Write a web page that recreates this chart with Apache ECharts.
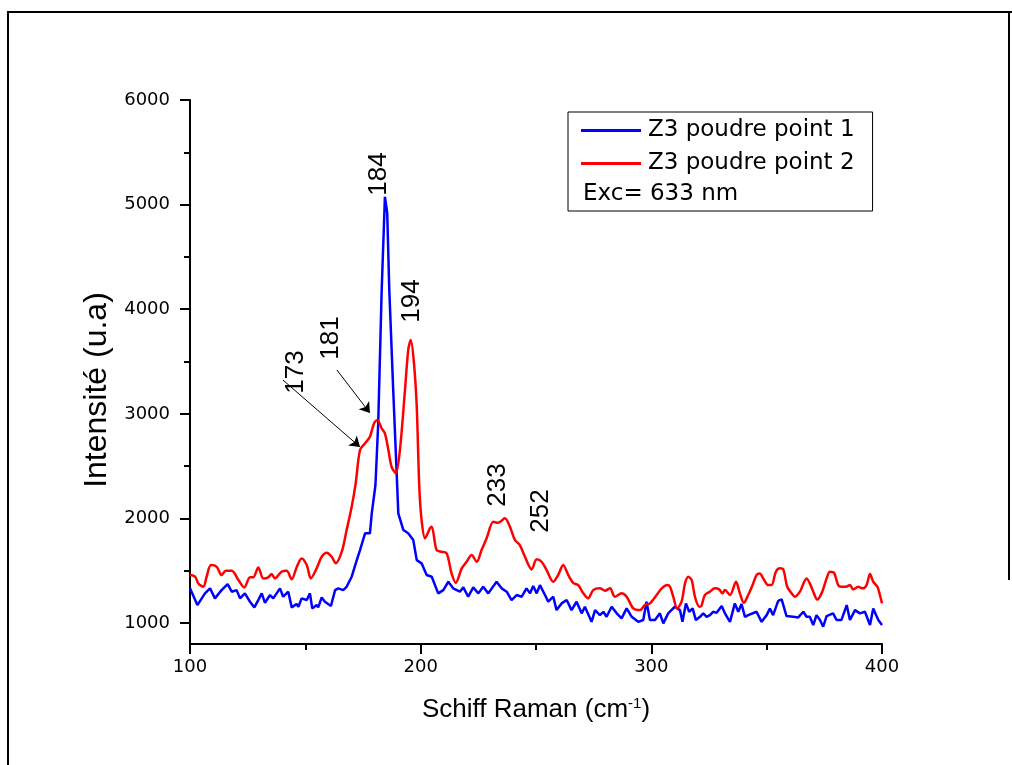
<!DOCTYPE html>
<html>
<head>
<meta charset="utf-8">
<script src="https://cdn.jsdelivr.net/npm/echarts@6/dist/echarts.min.js"></script>
<style>
  html, body { margin: 0; padding: 0; background: #fff; }
  #chart { width: 1012px; height: 765px; }
</style>
</head>
<body>
<div id="chart"></div>
<script>
// Raman shift (cm-1) / intensity pairs
const point1X = [100,103.2,106.5,108.7,110.8,113.7,116.3,118.1,120.2,121.7,123.8,126,127.9,129.6,131.1,132.5,134.7,136.1,139,140.4,142.6,144.1,146.2,147,148.4,150.6,152,153,154.9,155.6,157.1,158.5,161.1,162.9,164.3,166.4,167.9,170.1,172.3,173.7,175.9,178,178.8,180.4,181.6,183.1,184.5,185.5,186.4,188.1,189.9,190.3,192.5,194.6,196.8,198.3,200.4,202.6,204.8,207.6,209.8,212,214.1,217,218.5,220.6,222.8,225,227.1,229.3,232.9,235.1,237.3,239.4,241.6,243.8,245.9,247.4,248.8,250.3,251.7,253.9,255.3,257.5,258.9,261.1,263.3,265.4,267.6,269.8,271.2,274.1,275.6,277.7,279.2,280.6,282.8,285,287.1,289.3,291.5,294.3,296.5,297.9,299.4,301.6,303.7,305.2,307.3,310.2,312.4,313.5,315,316.4,317.9,319.3,321.1,322.5,324,325.4,326.8,328.3,330.5,331.9,334.1,336.2,337.7,339.1,340.6,342,345.6,347.8,350,351.4,352.8,355,356.5,358.6,361.5,363.7,365.9,367.3,368.7,370.2,371.6,373.1,374.5,376,378.8,380.3,382.4,384.7,386.1,388.3,390.4,392.6,394.8,396.2,398.4,400];
const point1Y = [1332,1172,1284,1332,1236,1315,1373,1300,1315,1236,1284,1204,1150,1220,1284,1194,1268,1236,1332,1252,1300,1150,1182,1156,1236,1220,1284,1140,1172,1150,1245,1204,1163,1315,1332,1315,1347,1443,1602,1698,1858,1858,2049,2320,2910,4183,5075,4920,4183,3228,2271,2049,1889,1858,1793,1602,1571,1459,1443,1284,1315,1395,1332,1300,1341,1252,1341,1284,1347,1284,1395,1332,1300,1220,1268,1252,1332,1284,1354,1284,1363,1268,1204,1252,1124,1188,1220,1124,1204,1093,1156,1012,1124,1076,1108,1060,1156,1093,1045,1140,1060,1012,1029,1204,1029,1029,1093,997,1093,1156,1124,1012,1188,1108,1140,1029,1060,1093,1060,1076,1108,1098,1163,1093,1012,1188,1108,1182,1060,1076,1108,1012,1076,1140,1076,1213,1226,1067,1060,1054,1108,1060,1060,981,1076,1029,965,1067,1093,1029,1029,1172,1029,1124,1093,1108,981,1140,1029,981];

const point2X = [100,102.2,103.6,105.8,107.2,109.1,111.6,113.7,115.5,118.1,121,123.5,126,127.4,129.6,131.8,133.9,135.4,136.8,139.7,141.9,144.1,146.2,148.4,150.6,152.4,154.9,157.1,159.3,161.4,163.2,165.8,167.9,170.1,171.8,173.7,175.9,178,179.8,181.2,183.1,184.5,186,187.4,189.2,191,193.2,194.6,195.7,197.1,198.3,199.4,200.4,201.9,204,204.8,206.9,209.1,211.3,213.4,215.2,217.8,219.9,222.1,224.3,226.4,228.6,231.5,233.6,236.5,238.7,240.9,243,245.2,248.1,250.3,252.4,254.6,257.5,259.6,261.8,264,266.1,268.3,270.5,272.6,274.8,277.7,279.9,282.1,284.2,287.1,289.3,292.2,295.1,297.2,299.4,302.3,304.5,306.9,308.1,309.5,311.2,313.1,314.6,316,317.5,318.9,320.8,321.7,323.2,325.4,327.5,329.4,330.8,331.9,334.1,336.7,338.4,340.1,342,343.9,345.6,347,348.5,350.7,352.1,354,355.7,357.2,358.9,360.8,362.2,364.4,367.3,368.7,370.2,371.9,373.8,376,377.4,379.2,381,382.4,384.3,386.1,387.5,389.7,391.6,393.3,394.8,396.2,398,399.1,400];
const point2Y = [1459,1443,1379,1347,1443,1555,1538,1459,1500,1500,1411,1341,1437,1437,1532,1427,1437,1468,1427,1491,1500,1418,1532,1618,1555,1427,1523,1634,1672,1634,1571,1682,1889,2112,2330,2654,2718,2781,2910,2941,2861,2813,2654,2494,2431,2654,3228,3610,3706,3483,3068,2303,1985,1810,1905,1921,1698,1682,1666,1475,1385,1523,1586,1650,1586,1698,1810,1968,1959,2001,1921,1793,1746,1634,1513,1609,1586,1507,1395,1459,1555,1459,1385,1363,1284,1236,1315,1332,1309,1332,1252,1284,1252,1140,1124,1172,1188,1268,1332,1363,1347,1252,1140,1204,1379,1443,1411,1252,1156,1163,1268,1300,1332,1322,1284,1315,1268,1395,1284,1194,1268,1363,1459,1475,1427,1363,1363,1491,1523,1513,1347,1284,1252,1300,1427,1379,1300,1226,1284,1427,1491,1481,1363,1347,1347,1363,1322,1347,1332,1363,1468,1395,1347,1268,1188];

const seriesNames = ['Z3 poudre point 1', 'Z3 poudre point 2'];
const xTicks = [100, 200, 300, 400];
const yMajor = [1000, 2000, 3000, 4000, 5000, 6000];
const yMinor = [1500, 2500, 3500, 4500, 5500];

// peak labels [shift, intensity where the label sits, text]
const peakLabels = [
  [181.9, 5292, '184'],
  [196.2, 4078, '194'],
  [145.9, 3400, '173'],
  [161.1, 3725, '181'],
  [233.5, 2319, '233'],
  [252.1, 2071, '252']
];
// arrows: from -> to
const arrows = [
  [[140.3, 3323], [173.7, 2683]],
  [[163.7, 3419], [178.0, 3008]]
];

const zip = (xs, ys) => xs.map((x, i) => [x, ys[i]]);

const chart = echarts.init(document.getElementById('chart'));

const axisBlack = { color: '#000', width: 2 };

chart.setOption({
  animation: false,
  backgroundColor: '#fff',
  grid: { left: 190, right: 130, top: 100, bottom: 121 },
  legend: {
    orient: 'vertical',
    left: 568,
    top: 112,
    data: seriesNames,
    icon: 'rect',
    itemWidth: 60,
    itemHeight: 3,
    itemGap: 10,
    padding: [7, 18, 36, 13],
    borderColor: '#000',
    borderWidth: 1,
    textStyle: { fontFamily: 'DejaVu Sans', fontSize: 23, color: '#000', padding: [0, 0, 0, 2] }
  },
  xAxis: {
    type: 'value',
    min: 100,
    max: 400,
    interval: 100,
    name: '{a|Schiff Raman (cm}{s|-1}{a|)}',
    nameLocation: 'middle',
    nameGap: 52,
    nameTextStyle: {
      rich: {
        a: { fontFamily: 'Liberation Sans', fontSize: 26, color: '#000' },
        s: { fontFamily: 'Liberation Sans', fontSize: 15, color: '#000', padding: [0, 0, 13, 0] }
      }
    },
    axisLine: { lineStyle: axisBlack },
    axisTick: { show: true, length: 10, lineStyle: axisBlack },
    minorTick: { show: true, splitNumber: 2, length: 6, lineStyle: axisBlack },
    axisLabel: {
      margin: 14,
      fontFamily: 'DejaVu Sans', fontSize: 18, color: '#000',
      customValues: xTicks,
      formatter: v => String(v)
    },
    splitLine: { show: false }
  },
  yAxis: [{
    type: 'value',
    min: 800,
    max: 6000,
    name: 'Intensité (u.a)',
    nameLocation: 'middle',
    nameGap: 64,
    nameTextStyle: { fontFamily: 'Liberation Sans', fontSize: 32, color: '#000', padding: [0, 36, 0, 0] },
    axisLine: { show: true, lineStyle: axisBlack },
    axisTick: { show: true, length: 10, lineStyle: axisBlack, customValues: yMajor },
    axisLabel: {
      margin: 20,
      fontFamily: 'DejaVu Sans', fontSize: 18, color: '#000',
      customValues: yMajor,
      formatter: v => String(v)
    },
    splitLine: { show: false }
  }, {
    type: 'value',
    min: 800,
    max: 6000,
    position: 'left',
    axisLine: { show: false },
    axisTick: { show: true, length: 6, lineStyle: axisBlack, customValues: yMinor },
    axisLabel: { show: false },
    splitLine: { show: false }
  }],
  series: [
    {
      name: seriesNames[0],
      type: 'line',
      data: zip(point1X, point1Y),
      showSymbol: false,
      symbol: 'none',
      lineStyle: { color: '#0000ff', width: 2.5 },
      itemStyle: { color: '#0000ff' },
      z: 2
    },
    {
      name: seriesNames[1],
      type: 'line',
      data: zip(point2X, point2Y),
      showSymbol: false,
      symbol: 'none',
      smooth: 0.3,
      lineStyle: { color: '#ff0000', width: 2.5 },
      itemStyle: { color: '#ff0000' },
      z: 3,
      markLine: {
        silent: true,
        symbol: ['none', 'arrow'],
        symbolSize: 10,
        label: { show: false },
        lineStyle: { color: '#000', width: 1, type: 'solid' },
        data: arrows.map(a => [{ coord: a[0] }, { coord: a[1] }])
      }
    }
  ]
});

// peak labels, rotated, placed through the grid's own scales
const labels = peakLabels.map(p => {
  const pt = chart.convertToPixel({ gridIndex: 0 }, [p[0], p[1]]);
  return {
    type: 'text',
    x: pt[0],
    y: pt[1],
    rotation: Math.PI / 2,
    style: {
      text: p[2],
      fontFamily: 'Liberation Sans',
      fontSize: 26,
      fill: '#000',
      align: 'center',
      verticalAlign: 'middle'
    },
    z: 10
  };
});

chart.setOption({
  graphic: [
    // outer frame
    { type: 'line', shape: { x1: 8, y1: 12, x2: 8, y2: 765 }, style: { stroke: '#000', lineWidth: 2 } },
    { type: 'line', shape: { x1: 7, y1: 12, x2: 1012, y2: 12 }, style: { stroke: '#000', lineWidth: 2 } },
    { type: 'line', shape: { x1: 1009, y1: 12, x2: 1009, y2: 580 }, style: { stroke: '#000', lineWidth: 2 } },
    {
      type: 'text',
      left: 583,
      top: 183,
      style: { text: 'Exc= 633 nm', fontFamily: 'DejaVu Sans', fontSize: 23, fill: '#000' },
      z: 10
    }
  ].concat(labels)
});
</script>
</body>
</html>
